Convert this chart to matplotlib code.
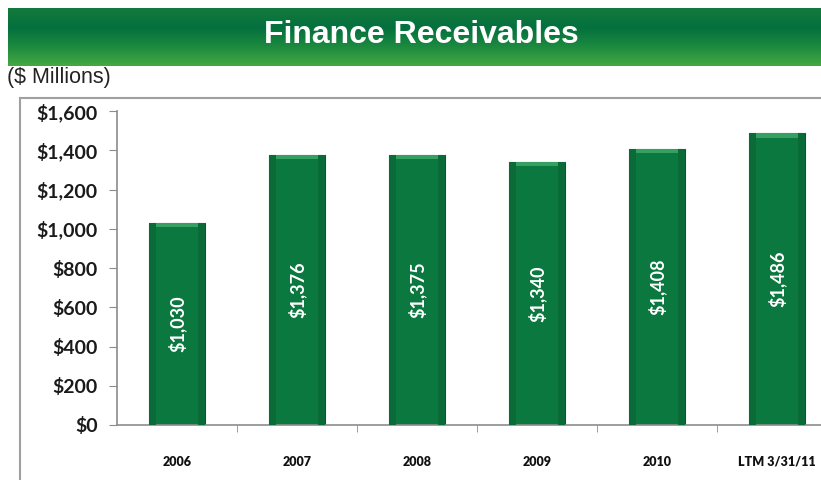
import matplotlib.pyplot as plt
import numpy as np
from matplotlib.colors import LinearSegmentedColormap
from matplotlib.lines import Line2D

# Finance receivables by period ($ millions)
periods = ["2006", "2007", "2008", "2009", "2010", "LTM 3/31/11"]
receivables = [1030, 1376, 1375, 1340, 1408, 1486]
y_ticks = [0, 200, 400, 600, 800, 1000, 1200, 1400, 1600]

W, H = 821, 480
fig = plt.figure(figsize=(W / 100, H / 100), dpi=100)
fig.patch.set_facecolor("white")

# green title banner with vertical gradient
banner = fig.add_axes([8 / W, 1 - 66 / H, 1 - 8 / W, 58 / H])
green = LinearSegmentedColormap.from_list(
    "banner", ["#137a3c", "#04703e", "#1c8a3e", "#45a843"])
banner.imshow(np.linspace(0, 1, 100).reshape(-1, 1), cmap=green,
              aspect="auto", extent=[0, 1, 0, 1], origin="upper")
banner.set_axis_off()
banner.text(0.508, 0.54, "Finance Receivables", color="white",
            fontsize=23, fontweight="bold", family="Liberation Sans",
            ha="center", va="center", transform=banner.transAxes)

fig.text(7 / W, 1 - 78 / H, "($ Millions)", fontsize=15.5,
         family="Liberation Sans", color="#222222", va="center")

# light grey frame around the chart area
fig.add_artist(Line2D([20 / W, 20 / W], [0, 1 - 98 / H], color="#a0a0a0",
                      lw=1.5, transform=fig.transFigure))
fig.add_artist(Line2D([20 / W, 1], [1 - 98 / H, 1 - 98 / H], color="#a0a0a0",
                      lw=1.5, transform=fig.transFigure))

ax = fig.add_axes([117 / W, 1 - 425 / H, (W - 117) / W, (425 - 111) / H])
x = np.arange(len(periods))
bar_w = 0.47

bars = ax.bar(x, receivables, width=bar_w, color="#0b7840",
              edgecolor="#06592d", linewidth=0.8, zorder=2)
# lighter bevel along each bar top
ax.bar(x, [22] * len(x), bottom=np.array(receivables) - 22, width=bar_w * 0.96,
       color="#35a062", linewidth=0, zorder=3)
# subtle side shading
ax.bar(x - bar_w * 0.44, receivables, width=bar_w * 0.12, color="#0a6a38",
       linewidth=0, zorder=3)
ax.bar(x + bar_w * 0.44, receivables, width=bar_w * 0.12, color="#0a6a38",
       linewidth=0, zorder=3)

for xi, v in zip(x, receivables):
    ax.text(xi, v / 2, f"${v:,}", rotation=90, color="white", fontsize=13,
            fontweight="bold", family="Lato", ha="center", va="center", zorder=4)

ax.set_xlim(-0.5, -0.5 + (W - 117) / 120)
ax.set_ylim(0, 1600)
ax.set_yticks(y_ticks)
ax.set_yticklabels([f"${t:,}" for t in y_ticks], fontsize=14,
                   fontweight="bold", family="Lato", color="#1a1a1a")
ax.set_xticks(x)
ax.set_xticklabels(periods, fontsize=9, fontweight="heavy", family="Lato",
                   color="#111111")
ax.set_xticks(x[:-1] + 0.5, minor=True)
ax.tick_params(axis="x", which="major", length=0, pad=22)
ax.tick_params(axis="x", which="minor", length=5, color="#8c8c8c", direction="out")
ax.tick_params(axis="y", length=6, color="#8c8c8c", direction="out", pad=8)

for s in ["top", "right"]:
    ax.spines[s].set_visible(False)
for s in ["left", "bottom"]:
    ax.spines[s].set_color("#8c8c8c")
    ax.spines[s].set_linewidth(1.2)
ax.set_facecolor("none")

fig.savefig("out.png", dpi=100)
